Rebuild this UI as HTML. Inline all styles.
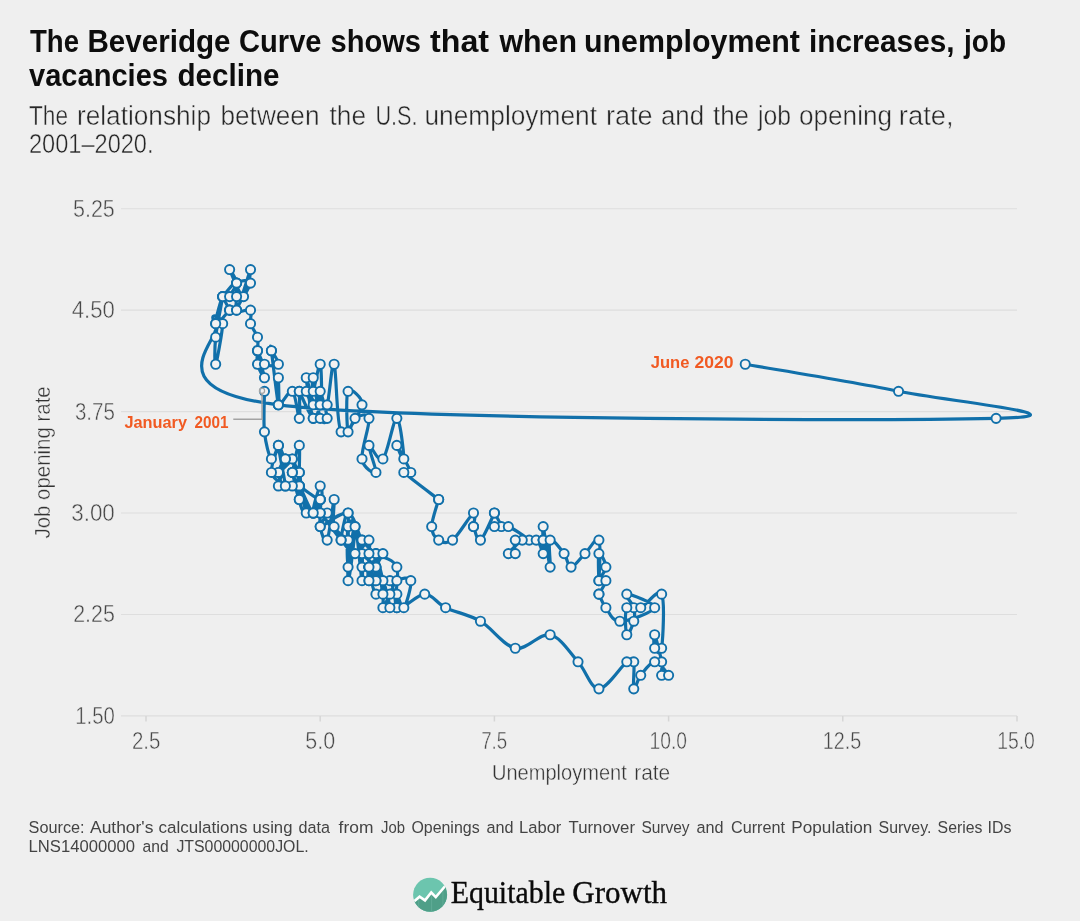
<!DOCTYPE html>
<html><head><meta charset="utf-8"><title>The Beveridge Curve</title>
<style>
html,body{margin:0;padding:0;background:#efefef;}
body{width:1080px;height:921px;overflow:hidden;font-family:"Liberation Sans",sans-serif;}
svg{display:block;will-change:transform;}
text{font-family:"Liberation Sans",sans-serif;}
.ttl{font-weight:bold;font-size:32px;fill:#0d0d0d;}
.sub{font-size:27px;fill:#262626;stroke:#efefef;stroke-width:0.45px;}
.ax{font-size:23px;fill:#484848;stroke:#efefef;stroke-width:0.45px;}
.axt{font-size:22px;fill:#333;stroke:#efefef;stroke-width:0.4px;}
.src{font-size:16.7px;fill:#444;}
.ann{font-weight:bold;font-size:17px;fill:#f15a22;}
.logo{font-family:'Liberation Serif',serif;font-size:30.5px;fill:#0a0a0a;stroke:#0a0a0a;stroke-width:0.35;}
.grid line{stroke:#dedede;stroke-width:1.1;}
.tick line{stroke:#d6d6d6;stroke-width:1.5;}
.pts circle{fill:#f2f2f2;stroke:#1170aa;stroke-width:1.9;}
.ln{fill:none;stroke:#1170aa;stroke-width:3.2;stroke-linejoin:round;stroke-linecap:round;}
</style></head><body>
<svg width="1080" height="921" viewBox="0 0 1080 921">
<rect x="0" y="0" width="1080" height="921" fill="#efefef"/>
<!-- grid -->
<g class="grid">
<line x1="121" x2="1017" y1="208.70" y2="208.70"/>
<line x1="121" x2="1017" y1="310.14" y2="310.14"/>
<line x1="121" x2="1017" y1="411.58" y2="411.58"/>
<line x1="121" x2="1017" y1="513.02" y2="513.02"/>
<line x1="121" x2="1017" y1="614.46" y2="614.46"/>
<line x1="121" x2="1017" y1="715.90" y2="715.90"/>
</g>
<g class="tick">
<line x1="146" x2="146" y1="715.9" y2="721.5"/>
<line x1="320.2" x2="320.2" y1="715.9" y2="721.5"/>
<line x1="494.4" x2="494.4" y1="715.9" y2="721.5"/>
<line x1="668.6" x2="668.6" y1="715.9" y2="721.5"/>
<line x1="842.8" x2="842.8" y1="715.9" y2="721.5"/>
<line x1="1017" x2="1017" y1="715.9" y2="721.5"/>
</g>
<text class="axt" transform="translate(49.6,538.5) rotate(-90)" textLength="152.2" lengthAdjust="spacingAndGlyphs">Job opening rate</text>
<!-- data -->
<path class="ln" d="M264.46,391.30C264.46,398.06,263.29,420.60,264.46,431.87C265.62,443.15,269.10,456.67,271.42,458.93C273.75,461.18,278.39,443.15,278.39,445.40C278.39,447.65,270.26,465.69,271.42,472.45C272.59,479.21,281.88,483.72,285.36,485.97C288.84,488.23,287.68,481.47,292.33,485.97C296.97,490.48,308.59,508.52,313.23,513.02C317.88,517.53,315.55,508.52,320.20,513.02C324.85,517.53,335.30,533.31,341.10,540.08C346.91,546.84,350.39,553.60,355.04,553.60C359.69,553.60,366.65,540.08,368.98,540.08C371.30,540.08,368.98,546.84,368.98,553.60C368.98,560.36,368.98,578.40,368.98,580.65C368.98,582.90,366.65,571.63,368.98,567.12C371.30,562.62,381.75,553.60,382.91,553.60C384.07,553.60,377.11,562.62,375.94,567.12C374.78,571.63,375.94,578.40,375.94,580.65C375.94,582.90,377.11,582.90,375.94,580.65C374.78,578.40,370.14,567.12,368.98,567.12C367.81,567.12,368.98,580.65,368.98,580.65C368.98,580.65,366.65,567.12,368.98,567.12C371.30,567.12,379.43,573.89,382.91,580.65C386.40,587.41,391.04,612.21,389.88,607.70C388.72,603.19,377.11,555.85,375.94,553.60C374.78,551.35,381.75,585.16,382.91,594.17C384.07,603.19,381.75,607.70,382.91,607.70C384.07,607.70,387.56,598.68,389.88,594.17C392.20,589.67,393.36,582.90,396.85,580.65C400.33,578.40,409.62,576.14,410.78,580.65C411.95,585.16,406.14,605.45,403.82,607.70C401.49,609.95,398.01,594.17,396.85,594.17C395.69,594.17,398.01,609.95,396.85,607.70C395.69,605.45,393.36,582.90,389.88,580.65C386.40,578.40,379.43,596.43,375.94,594.17C372.46,591.92,370.14,571.63,368.98,567.12C367.81,562.62,370.14,567.12,368.98,567.12C367.81,567.12,360.85,567.12,362.01,567.12C363.17,567.12,375.94,569.38,375.94,567.12C375.94,564.87,364.33,558.11,362.01,553.60C359.69,549.09,362.01,535.57,362.01,540.08C362.01,544.58,363.17,582.90,362.01,580.65C360.85,578.40,357.36,528.80,355.04,526.55C352.72,524.30,349.23,567.12,348.07,567.12C346.91,567.12,346.91,533.31,348.07,526.55C349.23,519.79,355.04,517.53,355.04,526.55C355.04,535.57,349.23,582.90,348.07,580.65C346.91,578.40,349.23,519.79,348.07,513.02C346.91,506.26,341.10,535.57,341.10,540.08C341.10,544.58,349.23,542.33,348.07,540.08C346.91,537.82,336.46,533.31,334.14,526.55C331.81,519.79,335.30,497.25,334.14,499.50C332.97,501.75,329.49,535.57,327.17,540.08C324.85,544.58,321.36,533.31,320.20,526.55C319.04,519.79,321.36,501.75,320.20,499.50C319.04,497.25,313.23,513.02,313.23,513.02C313.23,513.02,319.04,499.50,320.20,499.50C321.36,499.50,320.20,513.02,320.20,513.02C320.20,513.02,321.36,499.50,320.20,499.50C319.04,499.50,316.72,515.28,313.23,513.02C309.75,510.77,300.46,485.97,299.30,485.97C298.13,485.97,306.26,510.77,306.26,513.02C306.26,515.28,300.46,510.77,299.30,499.50C298.13,488.23,300.46,449.91,299.30,445.40C298.13,440.89,293.49,467.94,292.33,472.45C291.17,476.96,291.17,467.94,292.33,472.45C293.49,476.96,298.13,499.50,299.30,499.50C300.46,499.50,301.62,479.21,299.30,472.45C296.97,465.69,288.84,456.67,285.36,458.93C281.88,461.18,278.39,485.97,278.39,485.97C278.39,485.97,285.36,461.18,285.36,458.93C285.36,456.67,277.23,472.45,278.39,472.45C279.55,472.45,291.17,461.18,292.33,458.93C293.49,456.67,287.68,461.18,285.36,458.93C283.04,456.67,278.39,440.89,278.39,445.40C278.39,449.91,285.36,481.47,285.36,485.97C285.36,490.48,277.23,476.96,278.39,472.45C279.55,467.94,288.84,456.67,292.33,458.93C295.81,461.18,299.30,483.72,299.30,485.97C299.30,488.23,292.33,474.70,292.33,472.45C292.33,470.20,298.13,470.20,299.30,472.45C300.46,474.70,299.30,483.72,299.30,485.97C299.30,488.23,295.81,483.72,299.30,485.97C302.78,488.23,316.72,499.50,320.20,499.50C323.68,499.50,321.36,483.72,320.20,485.97C319.04,488.23,312.07,508.52,313.23,513.02C314.39,517.53,326.01,510.77,327.17,513.02C328.33,515.28,316.72,526.55,320.20,526.55C323.68,526.55,341.10,510.77,348.07,513.02C355.04,515.28,357.36,533.31,362.01,540.08C366.65,546.84,370.14,549.09,375.94,553.60C381.75,558.11,393.36,558.11,396.85,567.12C400.33,576.14,392.20,603.19,396.85,607.70C401.49,612.21,416.59,594.17,424.72,594.17C432.85,594.17,436.33,603.19,445.62,607.70C454.91,612.21,468.85,614.46,480.46,621.22C492.08,627.99,503.69,646.02,515.30,648.27C526.92,650.53,539.69,632.50,550.14,634.75C560.60,637.00,569.89,652.78,578.02,661.80C586.15,670.82,590.79,688.85,598.92,688.85C607.05,688.85,620.99,666.31,626.79,661.80C632.60,657.29,632.60,657.29,633.76,661.80C634.92,666.31,632.60,686.60,633.76,688.85C634.92,691.10,637.24,679.83,640.73,675.32C644.21,670.82,650.02,661.80,654.66,661.80C659.31,661.80,667.44,673.07,668.60,675.32C669.76,677.58,662.79,677.58,661.63,675.32C660.47,673.07,662.79,668.56,661.63,661.80C660.47,655.04,655.83,637.00,654.66,634.75C653.50,632.50,653.50,646.02,654.66,648.27C655.83,650.53,660.47,657.29,661.63,648.27C662.79,639.26,665.12,600.94,661.63,594.17C658.15,587.41,646.53,605.45,640.73,607.70C634.92,609.95,629.11,603.19,626.79,607.70C624.47,612.21,625.63,632.50,626.79,634.75C627.95,637.00,632.60,625.73,633.76,621.22C634.92,616.72,634.92,612.21,633.76,607.70C632.60,603.19,623.31,594.17,626.79,594.17C630.28,594.17,655.83,603.19,654.66,607.70C653.50,612.21,627.95,621.22,619.82,621.22C611.69,621.22,609.37,612.21,605.89,607.70C602.40,603.19,600.08,596.43,598.92,594.17C597.76,591.92,597.76,596.43,598.92,594.17C600.08,591.92,605.89,582.90,605.89,580.65C605.89,578.40,598.92,582.90,598.92,580.65C598.92,578.40,605.89,571.63,605.89,567.12C605.89,562.62,600.08,551.35,598.92,553.60C597.76,555.85,598.92,582.90,598.92,580.65C598.92,578.40,601.24,544.58,598.92,540.08C596.60,535.57,589.63,549.09,584.98,553.60C580.34,558.11,574.53,567.12,571.05,567.12C567.56,567.12,567.56,558.11,564.08,553.60C560.60,549.09,552.47,537.82,550.14,540.08C547.82,542.33,551.31,569.38,550.14,567.12C548.98,564.87,544.34,531.06,543.18,526.55C542.01,522.04,543.18,537.82,543.18,540.08C543.18,542.33,543.18,540.08,543.18,540.08C543.18,540.08,543.18,537.82,543.18,540.08C543.18,542.33,544.34,553.60,543.18,553.60C542.01,553.60,540.85,542.33,536.21,540.08C531.56,537.82,518.79,537.82,515.30,540.08C511.82,542.33,516.47,551.35,515.30,553.60C514.14,555.85,507.17,555.85,508.34,553.60C509.50,551.35,518.79,542.33,522.27,540.08C525.76,537.82,531.56,542.33,529.24,540.08C526.92,537.82,514.14,528.80,508.34,526.55C502.53,524.30,495.56,526.55,494.40,526.55C493.24,526.55,501.37,528.80,501.37,526.55C501.37,524.30,495.56,515.28,494.40,513.02C493.24,510.77,496.72,508.52,494.40,513.02C492.08,517.53,483.95,537.82,480.46,540.08C476.98,542.33,474.66,528.80,473.50,526.55C472.33,524.30,473.50,528.80,473.50,526.55C473.50,524.30,476.98,510.77,473.50,513.02C470.01,515.28,458.40,535.57,452.59,540.08C446.79,544.58,442.14,542.33,438.66,540.08C435.17,537.82,431.69,533.31,431.69,526.55C431.69,519.79,437.49,504.01,438.66,499.50C439.82,494.99,444.46,504.01,438.66,499.50C432.85,494.99,408.46,476.96,403.82,472.45C399.17,467.94,411.95,476.96,410.78,472.45C409.62,467.94,398.01,447.65,396.85,445.40C395.69,443.15,403.82,463.43,403.82,458.93C403.82,454.42,400.33,418.35,396.85,418.35C393.36,418.35,387.56,454.42,382.91,458.93C378.27,463.43,370.14,443.15,368.98,445.40C367.81,447.65,377.11,470.20,375.94,472.45C374.78,474.70,363.17,467.94,362.01,458.93C360.85,449.91,370.14,425.11,368.98,418.35C367.81,411.59,358.52,416.10,355.04,418.35C351.56,420.60,349.23,436.38,348.07,431.87C346.91,427.37,345.75,395.81,348.07,391.30C350.39,386.79,363.17,398.06,362.01,404.82C360.85,411.59,345.75,438.64,341.10,431.87C336.46,425.11,336.46,368.76,334.14,364.25C331.81,359.74,329.49,398.06,327.17,404.82C324.85,411.59,321.36,407.08,320.20,404.82C319.04,402.57,319.04,389.05,320.20,391.30C321.36,393.55,327.17,413.84,327.17,418.35C327.17,422.86,322.52,425.11,320.20,418.35C317.88,411.59,314.39,382.28,313.23,377.77C312.07,373.27,312.07,393.55,313.23,391.30C314.39,389.05,319.04,362.00,320.20,364.25C321.36,366.50,322.52,400.32,320.20,404.82C317.88,409.33,307.43,391.30,306.26,391.30C305.10,391.30,313.23,407.08,313.23,404.82C313.23,402.57,306.26,375.52,306.26,377.77C306.26,380.03,310.91,413.84,313.23,418.35C315.55,422.86,320.20,404.82,320.20,404.82C320.20,404.82,316.72,420.60,313.23,418.35C309.75,416.10,301.62,395.81,299.30,391.30C296.97,386.79,299.30,386.79,299.30,391.30C299.30,395.81,300.46,418.35,299.30,418.35C298.13,418.35,295.81,393.55,292.33,391.30C288.84,389.05,280.71,407.08,278.39,404.82C276.07,402.57,278.39,377.77,278.39,377.77C278.39,377.77,279.55,409.33,278.39,404.82C277.23,400.32,272.59,359.74,271.42,350.72C270.26,341.71,270.26,348.47,271.42,350.72C272.59,352.98,279.55,362.00,278.39,364.25C277.23,366.50,267.94,366.50,264.46,364.25C260.97,362.00,257.49,348.47,257.49,350.72C257.49,352.98,264.46,375.52,264.46,377.77C264.46,380.03,258.65,368.76,257.49,364.25C256.33,359.74,257.49,355.23,257.49,350.72C257.49,346.22,258.65,341.71,257.49,337.20C256.33,332.69,251.68,328.18,250.52,323.67C249.36,319.17,252.84,312.40,250.52,310.15C248.20,307.90,236.58,314.66,236.58,310.15C236.58,305.64,250.52,287.61,250.52,283.10C250.52,278.59,238.91,280.85,236.58,283.10C234.26,285.35,237.75,294.37,236.58,296.62C235.42,298.88,229.62,298.88,229.62,296.62C229.62,294.37,236.58,287.61,236.58,283.10C236.58,278.59,228.45,267.32,229.62,269.57C230.78,271.83,240.07,296.62,243.55,296.62C247.04,296.62,251.68,267.32,250.52,269.57C249.36,271.83,238.91,307.90,236.58,310.15C234.26,312.40,238.91,285.35,236.58,283.10C234.26,280.85,224.97,294.37,222.65,296.62C220.33,298.88,221.49,294.37,222.65,296.62C223.81,298.88,228.45,307.90,229.62,310.15C230.78,312.40,229.62,310.15,229.62,310.15C229.62,310.15,231.94,307.90,229.62,310.15C227.29,312.40,216.84,325.93,215.68,323.67C214.52,321.42,222.65,294.37,222.65,296.62C222.65,298.88,216.84,325.93,215.68,337.20C214.52,348.47,214.52,366.50,215.68,364.25C216.84,362.00,222.65,330.44,222.65,323.67C222.65,316.91,206.39,310.15,215.68,323.67C224.97,337.20,148.32,389.05,278.39,404.82C408.46,420.60,892.74,420.60,996.10,418.35C1099.45,416.10,940.35,400.32,898.54,391.30C856.74,382.28,770.80,368.76,745.25,364.25"/>
<g class="pts">
<circle cx="745.25" cy="364.25" r="4.6"/>
<circle cx="898.54" cy="391.30" r="4.6"/>
<circle cx="996.10" cy="418.35" r="4.6"/>
<circle cx="278.39" cy="404.82" r="4.6"/>
<circle cx="215.68" cy="323.67" r="4.6"/>
<circle cx="222.65" cy="323.67" r="4.6"/>
<circle cx="215.68" cy="364.25" r="4.6"/>
<circle cx="215.68" cy="337.20" r="4.6"/>
<circle cx="222.65" cy="296.62" r="4.6"/>
<circle cx="215.68" cy="323.67" r="4.6"/>
<circle cx="229.62" cy="310.15" r="4.6"/>
<circle cx="229.62" cy="310.15" r="4.6"/>
<circle cx="229.62" cy="310.15" r="4.6"/>
<circle cx="222.65" cy="296.62" r="4.6"/>
<circle cx="222.65" cy="296.62" r="4.6"/>
<circle cx="236.58" cy="283.10" r="4.6"/>
<circle cx="236.58" cy="310.15" r="4.6"/>
<circle cx="250.52" cy="269.57" r="4.6"/>
<circle cx="243.55" cy="296.62" r="4.6"/>
<circle cx="229.62" cy="269.57" r="4.6"/>
<circle cx="236.58" cy="283.10" r="4.6"/>
<circle cx="229.62" cy="296.62" r="4.6"/>
<circle cx="236.58" cy="296.62" r="4.6"/>
<circle cx="236.58" cy="283.10" r="4.6"/>
<circle cx="250.52" cy="283.10" r="4.6"/>
<circle cx="236.58" cy="310.15" r="4.6"/>
<circle cx="250.52" cy="310.15" r="4.6"/>
<circle cx="250.52" cy="323.67" r="4.6"/>
<circle cx="257.49" cy="337.20" r="4.6"/>
<circle cx="257.49" cy="350.72" r="4.6"/>
<circle cx="257.49" cy="364.25" r="4.6"/>
<circle cx="264.46" cy="377.77" r="4.6"/>
<circle cx="257.49" cy="350.72" r="4.6"/>
<circle cx="264.46" cy="364.25" r="4.6"/>
<circle cx="278.39" cy="364.25" r="4.6"/>
<circle cx="271.42" cy="350.72" r="4.6"/>
<circle cx="271.42" cy="350.72" r="4.6"/>
<circle cx="278.39" cy="404.82" r="4.6"/>
<circle cx="278.39" cy="377.77" r="4.6"/>
<circle cx="278.39" cy="404.82" r="4.6"/>
<circle cx="292.33" cy="391.30" r="4.6"/>
<circle cx="299.30" cy="418.35" r="4.6"/>
<circle cx="299.30" cy="391.30" r="4.6"/>
<circle cx="299.30" cy="391.30" r="4.6"/>
<circle cx="313.23" cy="418.35" r="4.6"/>
<circle cx="320.20" cy="404.82" r="4.6"/>
<circle cx="313.23" cy="418.35" r="4.6"/>
<circle cx="306.26" cy="377.77" r="4.6"/>
<circle cx="313.23" cy="404.82" r="4.6"/>
<circle cx="306.26" cy="391.30" r="4.6"/>
<circle cx="320.20" cy="404.82" r="4.6"/>
<circle cx="320.20" cy="364.25" r="4.6"/>
<circle cx="313.23" cy="391.30" r="4.6"/>
<circle cx="313.23" cy="377.77" r="4.6"/>
<circle cx="320.20" cy="418.35" r="4.6"/>
<circle cx="327.17" cy="418.35" r="4.6"/>
<circle cx="320.20" cy="391.30" r="4.6"/>
<circle cx="320.20" cy="404.82" r="4.6"/>
<circle cx="327.17" cy="404.82" r="4.6"/>
<circle cx="334.14" cy="364.25" r="4.6"/>
<circle cx="341.10" cy="431.87" r="4.6"/>
<circle cx="362.01" cy="404.82" r="4.6"/>
<circle cx="348.07" cy="391.30" r="4.6"/>
<circle cx="348.07" cy="431.87" r="4.6"/>
<circle cx="355.04" cy="418.35" r="4.6"/>
<circle cx="368.98" cy="418.35" r="4.6"/>
<circle cx="362.01" cy="458.93" r="4.6"/>
<circle cx="375.94" cy="472.45" r="4.6"/>
<circle cx="368.98" cy="445.40" r="4.6"/>
<circle cx="382.91" cy="458.93" r="4.6"/>
<circle cx="396.85" cy="418.35" r="4.6"/>
<circle cx="403.82" cy="458.93" r="4.6"/>
<circle cx="396.85" cy="445.40" r="4.6"/>
<circle cx="410.78" cy="472.45" r="4.6"/>
<circle cx="403.82" cy="472.45" r="4.6"/>
<circle cx="438.66" cy="499.50" r="4.6"/>
<circle cx="438.66" cy="499.50" r="4.6"/>
<circle cx="431.69" cy="526.55" r="4.6"/>
<circle cx="438.66" cy="540.08" r="4.6"/>
<circle cx="452.59" cy="540.08" r="4.6"/>
<circle cx="473.50" cy="513.02" r="4.6"/>
<circle cx="473.50" cy="526.55" r="4.6"/>
<circle cx="473.50" cy="526.55" r="4.6"/>
<circle cx="480.46" cy="540.08" r="4.6"/>
<circle cx="494.40" cy="513.02" r="4.6"/>
<circle cx="494.40" cy="513.02" r="4.6"/>
<circle cx="501.37" cy="526.55" r="4.6"/>
<circle cx="494.40" cy="526.55" r="4.6"/>
<circle cx="508.34" cy="526.55" r="4.6"/>
<circle cx="529.24" cy="540.08" r="4.6"/>
<circle cx="522.27" cy="540.08" r="4.6"/>
<circle cx="508.34" cy="553.60" r="4.6"/>
<circle cx="515.30" cy="553.60" r="4.6"/>
<circle cx="515.30" cy="540.08" r="4.6"/>
<circle cx="536.21" cy="540.08" r="4.6"/>
<circle cx="543.18" cy="553.60" r="4.6"/>
<circle cx="543.18" cy="540.08" r="4.6"/>
<circle cx="543.18" cy="540.08" r="4.6"/>
<circle cx="543.18" cy="540.08" r="4.6"/>
<circle cx="543.18" cy="526.55" r="4.6"/>
<circle cx="550.14" cy="567.12" r="4.6"/>
<circle cx="550.14" cy="540.08" r="4.6"/>
<circle cx="564.08" cy="553.60" r="4.6"/>
<circle cx="571.05" cy="567.12" r="4.6"/>
<circle cx="584.98" cy="553.60" r="4.6"/>
<circle cx="598.92" cy="540.08" r="4.6"/>
<circle cx="598.92" cy="580.65" r="4.6"/>
<circle cx="598.92" cy="553.60" r="4.6"/>
<circle cx="605.89" cy="567.12" r="4.6"/>
<circle cx="598.92" cy="580.65" r="4.6"/>
<circle cx="605.89" cy="580.65" r="4.6"/>
<circle cx="598.92" cy="594.17" r="4.6"/>
<circle cx="598.92" cy="594.17" r="4.6"/>
<circle cx="605.89" cy="607.70" r="4.6"/>
<circle cx="619.82" cy="621.22" r="4.6"/>
<circle cx="654.66" cy="607.70" r="4.6"/>
<circle cx="626.79" cy="594.17" r="4.6"/>
<circle cx="633.76" cy="607.70" r="4.6"/>
<circle cx="633.76" cy="621.22" r="4.6"/>
<circle cx="626.79" cy="634.75" r="4.6"/>
<circle cx="626.79" cy="607.70" r="4.6"/>
<circle cx="640.73" cy="607.70" r="4.6"/>
<circle cx="661.63" cy="594.17" r="4.6"/>
<circle cx="661.63" cy="648.27" r="4.6"/>
<circle cx="654.66" cy="648.27" r="4.6"/>
<circle cx="654.66" cy="634.75" r="4.6"/>
<circle cx="661.63" cy="661.80" r="4.6"/>
<circle cx="661.63" cy="675.32" r="4.6"/>
<circle cx="668.60" cy="675.32" r="4.6"/>
<circle cx="654.66" cy="661.80" r="4.6"/>
<circle cx="640.73" cy="675.32" r="4.6"/>
<circle cx="633.76" cy="688.85" r="4.6"/>
<circle cx="633.76" cy="661.80" r="4.6"/>
<circle cx="626.79" cy="661.80" r="4.6"/>
<circle cx="598.92" cy="688.85" r="4.6"/>
<circle cx="578.02" cy="661.80" r="4.6"/>
<circle cx="550.14" cy="634.75" r="4.6"/>
<circle cx="515.30" cy="648.27" r="4.6"/>
<circle cx="480.46" cy="621.22" r="4.6"/>
<circle cx="445.62" cy="607.70" r="4.6"/>
<circle cx="424.72" cy="594.17" r="4.6"/>
<circle cx="396.85" cy="607.70" r="4.6"/>
<circle cx="396.85" cy="567.12" r="4.6"/>
<circle cx="375.94" cy="553.60" r="4.6"/>
<circle cx="362.01" cy="540.08" r="4.6"/>
<circle cx="348.07" cy="513.02" r="4.6"/>
<circle cx="320.20" cy="526.55" r="4.6"/>
<circle cx="327.17" cy="513.02" r="4.6"/>
<circle cx="313.23" cy="513.02" r="4.6"/>
<circle cx="320.20" cy="485.97" r="4.6"/>
<circle cx="320.20" cy="499.50" r="4.6"/>
<circle cx="299.30" cy="485.97" r="4.6"/>
<circle cx="299.30" cy="485.97" r="4.6"/>
<circle cx="299.30" cy="472.45" r="4.6"/>
<circle cx="292.33" cy="472.45" r="4.6"/>
<circle cx="299.30" cy="485.97" r="4.6"/>
<circle cx="292.33" cy="458.93" r="4.6"/>
<circle cx="278.39" cy="472.45" r="4.6"/>
<circle cx="285.36" cy="485.97" r="4.6"/>
<circle cx="278.39" cy="445.40" r="4.6"/>
<circle cx="285.36" cy="458.93" r="4.6"/>
<circle cx="292.33" cy="458.93" r="4.6"/>
<circle cx="278.39" cy="472.45" r="4.6"/>
<circle cx="285.36" cy="458.93" r="4.6"/>
<circle cx="278.39" cy="485.97" r="4.6"/>
<circle cx="285.36" cy="458.93" r="4.6"/>
<circle cx="299.30" cy="472.45" r="4.6"/>
<circle cx="299.30" cy="499.50" r="4.6"/>
<circle cx="292.33" cy="472.45" r="4.6"/>
<circle cx="292.33" cy="472.45" r="4.6"/>
<circle cx="299.30" cy="445.40" r="4.6"/>
<circle cx="299.30" cy="499.50" r="4.6"/>
<circle cx="306.26" cy="513.02" r="4.6"/>
<circle cx="299.30" cy="485.97" r="4.6"/>
<circle cx="313.23" cy="513.02" r="4.6"/>
<circle cx="320.20" cy="499.50" r="4.6"/>
<circle cx="320.20" cy="513.02" r="4.6"/>
<circle cx="320.20" cy="499.50" r="4.6"/>
<circle cx="313.23" cy="513.02" r="4.6"/>
<circle cx="320.20" cy="499.50" r="4.6"/>
<circle cx="320.20" cy="526.55" r="4.6"/>
<circle cx="327.17" cy="540.08" r="4.6"/>
<circle cx="334.14" cy="499.50" r="4.6"/>
<circle cx="334.14" cy="526.55" r="4.6"/>
<circle cx="348.07" cy="540.08" r="4.6"/>
<circle cx="341.10" cy="540.08" r="4.6"/>
<circle cx="348.07" cy="513.02" r="4.6"/>
<circle cx="348.07" cy="580.65" r="4.6"/>
<circle cx="355.04" cy="526.55" r="4.6"/>
<circle cx="348.07" cy="526.55" r="4.6"/>
<circle cx="348.07" cy="567.12" r="4.6"/>
<circle cx="355.04" cy="526.55" r="4.6"/>
<circle cx="362.01" cy="580.65" r="4.6"/>
<circle cx="362.01" cy="540.08" r="4.6"/>
<circle cx="362.01" cy="553.60" r="4.6"/>
<circle cx="375.94" cy="567.12" r="4.6"/>
<circle cx="362.01" cy="567.12" r="4.6"/>
<circle cx="368.98" cy="567.12" r="4.6"/>
<circle cx="368.98" cy="567.12" r="4.6"/>
<circle cx="375.94" cy="594.17" r="4.6"/>
<circle cx="389.88" cy="580.65" r="4.6"/>
<circle cx="396.85" cy="607.70" r="4.6"/>
<circle cx="396.85" cy="594.17" r="4.6"/>
<circle cx="403.82" cy="607.70" r="4.6"/>
<circle cx="410.78" cy="580.65" r="4.6"/>
<circle cx="396.85" cy="580.65" r="4.6"/>
<circle cx="389.88" cy="594.17" r="4.6"/>
<circle cx="382.91" cy="607.70" r="4.6"/>
<circle cx="382.91" cy="594.17" r="4.6"/>
<circle cx="375.94" cy="553.60" r="4.6"/>
<circle cx="389.88" cy="607.70" r="4.6"/>
<circle cx="382.91" cy="580.65" r="4.6"/>
<circle cx="368.98" cy="567.12" r="4.6"/>
<circle cx="368.98" cy="580.65" r="4.6"/>
<circle cx="368.98" cy="567.12" r="4.6"/>
<circle cx="375.94" cy="580.65" r="4.6"/>
<circle cx="375.94" cy="580.65" r="4.6"/>
<circle cx="375.94" cy="567.12" r="4.6"/>
<circle cx="382.91" cy="553.60" r="4.6"/>
<circle cx="368.98" cy="567.12" r="4.6"/>
<circle cx="368.98" cy="580.65" r="4.6"/>
<circle cx="368.98" cy="553.60" r="4.6"/>
<circle cx="368.98" cy="540.08" r="4.6"/>
<circle cx="355.04" cy="553.60" r="4.6"/>
<circle cx="341.10" cy="540.08" r="4.6"/>
<circle cx="320.20" cy="513.02" r="4.6"/>
<circle cx="313.23" cy="513.02" r="4.6"/>
<circle cx="292.33" cy="485.97" r="4.6"/>
<circle cx="285.36" cy="485.97" r="4.6"/>
<circle cx="271.42" cy="472.45" r="4.6"/>
<circle cx="278.39" cy="445.40" r="4.6"/>
<circle cx="271.42" cy="458.93" r="4.6"/>
<circle cx="264.46" cy="431.87" r="4.6"/>
<circle cx="264.46" cy="391.30" r="4.6"/>
</g>
<!-- annotations -->
<path d="M233.3,419.2H262V393.5" fill="none" stroke="#a3a3a3" stroke-width="1.4"/>
<circle cx="262" cy="390.8" r="2.6" fill="#f0f0f0" fill-opacity="0.6" stroke="#a3a3a3" stroke-width="1.2"/>
<!-- logo -->
<defs><clipPath id="lc"><circle cx="430.1" cy="894.8" r="17"/></clipPath></defs>
<g clip-path="url(#lc)">
<rect x="410" y="875" width="40" height="40" fill="#6cc5ae"/>
<path d="M410,905 L414.2,901.25 L419.6,896.7 L425,900.4 L431.25,892.5 L435.8,897.1 L445,886.25 L450,880 V915 H410 Z" fill="#4f9f88"/>
<path d="M418.7,898V915M431.6,893V915M442.9,889V915" stroke="#62ad97" stroke-width="0.9" fill="none"/>
<path d="M410,905 L414.2,901.25 L419.6,896.7 L425,900.4 L431.25,892.5 L435.8,897.1 L445,886.25 L450,880" fill="none" stroke="#fff" stroke-width="2.6" stroke-linejoin="miter"/>
</g>
<text id="t0" class="ttl" x="30.01" y="52" textLength="49.01" lengthAdjust="spacingAndGlyphs">The</text>
<text id="t1" class="ttl" x="87.48" y="52" textLength="143.05" lengthAdjust="spacingAndGlyphs">Beveridge</text>
<text id="t2" class="ttl" x="239.00" y="52" textLength="82.51" lengthAdjust="spacingAndGlyphs">Curve</text>
<text id="t3" class="ttl" x="330.48" y="52" textLength="90.54" lengthAdjust="spacingAndGlyphs">shows</text>
<text id="t4" class="ttl" x="430.00" y="52" textLength="59.00" lengthAdjust="spacingAndGlyphs">that</text>
<text id="t5" class="ttl" x="499.50" y="52" textLength="77.52" lengthAdjust="spacingAndGlyphs">when</text>
<text id="t6" class="ttl" x="583.99" y="52" textLength="216.00" lengthAdjust="spacingAndGlyphs">unemployment</text>
<text id="t7" class="ttl" x="808.97" y="52" textLength="145.55" lengthAdjust="spacingAndGlyphs">increases,</text>
<text id="t8" class="ttl" x="964.00" y="52" textLength="42.00" lengthAdjust="spacingAndGlyphs">job</text>
<text id="t9" class="ttl" x="29.00" y="85.5" textLength="139.01" lengthAdjust="spacingAndGlyphs">vacancies</text>
<text id="t10" class="ttl" x="177.47" y="85.5" textLength="102.04" lengthAdjust="spacingAndGlyphs">decline</text>
<text id="t11" class="sub" x="28.99" y="124.5" textLength="39.03" lengthAdjust="spacingAndGlyphs">The</text>
<text id="t12" class="sub" x="76.99" y="124.5" textLength="134.02" lengthAdjust="spacingAndGlyphs">relationship</text>
<text id="t13" class="sub" x="220.49" y="124.5" textLength="99.02" lengthAdjust="spacingAndGlyphs">between</text>
<text id="t14" class="sub" x="329.51" y="124.5" textLength="36.52" lengthAdjust="spacingAndGlyphs">the</text>
<text id="t15" class="sub" x="375.46" y="124.5" textLength="42.11" lengthAdjust="spacingAndGlyphs">U.S.</text>
<text id="t16" class="sub" x="424.49" y="124.5" textLength="172.50" lengthAdjust="spacingAndGlyphs">unemployment</text>
<text id="t17" class="sub" x="605.90" y="124.5" textLength="46.68" lengthAdjust="spacingAndGlyphs">rate</text>
<text id="t18" class="sub" x="660.95" y="124.5" textLength="43.10" lengthAdjust="spacingAndGlyphs">and</text>
<text id="t19" class="sub" x="713.00" y="124.5" textLength="36.03" lengthAdjust="spacingAndGlyphs">the</text>
<text id="t20" class="sub" x="758.00" y="124.5" textLength="33.00" lengthAdjust="spacingAndGlyphs">job</text>
<text id="t21" class="sub" x="798.97" y="124.5" textLength="93.07" lengthAdjust="spacingAndGlyphs">opening</text>
<text id="t22" class="sub" x="898.88" y="124.5" textLength="54.80" lengthAdjust="spacingAndGlyphs">rate,</text>
<text id="t23" class="sub" x="28.99" y="152.5" textLength="124.54" lengthAdjust="spacingAndGlyphs">2001–2020.</text>
<text id="t24" class="ax" x="72.98" y="216.7" textLength="41.85" lengthAdjust="spacingAndGlyphs">5.25</text>
<text id="t25" class="ax" x="71.78" y="318.14" textLength="43.06" lengthAdjust="spacingAndGlyphs">4.50</text>
<text id="t26" class="ax" x="74.98" y="419.58" textLength="39.85" lengthAdjust="spacingAndGlyphs">3.75</text>
<text id="t27" class="ax" x="71.19" y="521.02" textLength="43.64" lengthAdjust="spacingAndGlyphs">3.00</text>
<text id="t28" class="ax" x="73.19" y="622.46" textLength="41.64" lengthAdjust="spacingAndGlyphs">2.25</text>
<text id="t29" class="ax" x="75.32" y="723.9" textLength="39.54" lengthAdjust="spacingAndGlyphs">1.50</text>
<text id="t30" class="ax" x="131.89" y="748.8" textLength="28.42" lengthAdjust="spacingAndGlyphs">2.5</text>
<text id="t31" class="ax" x="305.36" y="748.8" textLength="29.87" lengthAdjust="spacingAndGlyphs">5.0</text>
<text id="t32" class="ax" x="481.19" y="748.8" textLength="26.01" lengthAdjust="spacingAndGlyphs">7.5</text>
<text id="t33" class="ax" x="649.58" y="748.8" textLength="37.44" lengthAdjust="spacingAndGlyphs">10.0</text>
<text id="t34" class="ax" x="822.82" y="748.8" textLength="38.48" lengthAdjust="spacingAndGlyphs">12.5</text>
<text id="t35" class="ax" x="997.13" y="748.8" textLength="37.70" lengthAdjust="spacingAndGlyphs">15.0</text>
<text id="t36" class="axt" x="491.99" y="780.4" textLength="134.81" lengthAdjust="spacingAndGlyphs">Unemployment</text>
<text id="t37" class="axt" x="634.19" y="780.4" textLength="36.03" lengthAdjust="spacingAndGlyphs">rate</text>
<text id="t38" class="ann" x="650.79" y="368.2" textLength="38.62" lengthAdjust="spacingAndGlyphs">June</text>
<text id="t39" class="ann" x="694.59" y="368.2" textLength="39.03" lengthAdjust="spacingAndGlyphs">2020</text>
<text id="t40" class="ann" x="124.40" y="428.4" textLength="62.60" lengthAdjust="spacingAndGlyphs">January</text>
<text id="t41" class="ann" x="194.40" y="428.4" textLength="34.01" lengthAdjust="spacingAndGlyphs">2001</text>
<text id="t42" class="src" x="28.57" y="833.3" textLength="56.08" lengthAdjust="spacingAndGlyphs">Source:</text>
<text id="t43" class="src" x="90.00" y="833.3" textLength="63.41" lengthAdjust="spacingAndGlyphs">Author's</text>
<text id="t44" class="src" x="158.59" y="833.3" textLength="88.82" lengthAdjust="spacingAndGlyphs">calculations</text>
<text id="t45" class="src" x="252.57" y="833.3" textLength="39.85" lengthAdjust="spacingAndGlyphs">using</text>
<text id="t46" class="src" x="298.58" y="833.3" textLength="31.42" lengthAdjust="spacingAndGlyphs">data</text>
<text id="t47" class="src" x="338.60" y="833.3" textLength="34.80" lengthAdjust="spacingAndGlyphs">from</text>
<text id="t48" class="src" x="381.00" y="833.3" textLength="24.00" lengthAdjust="spacingAndGlyphs">Job</text>
<text id="t49" class="src" x="411.40" y="833.3" textLength="68.21" lengthAdjust="spacingAndGlyphs">Openings</text>
<text id="t50" class="src" x="486.39" y="833.3" textLength="27.04" lengthAdjust="spacingAndGlyphs">and</text>
<text id="t51" class="src" x="518.98" y="833.3" textLength="42.41" lengthAdjust="spacingAndGlyphs">Labor</text>
<text id="t52" class="src" x="568.60" y="833.3" textLength="66.40" lengthAdjust="spacingAndGlyphs">Turnover</text>
<text id="t53" class="src" x="641.40" y="833.3" textLength="48.21" lengthAdjust="spacingAndGlyphs">Survey</text>
<text id="t54" class="src" x="696.39" y="833.3" textLength="27.04" lengthAdjust="spacingAndGlyphs">and</text>
<text id="t55" class="src" x="731.00" y="833.3" textLength="54.00" lengthAdjust="spacingAndGlyphs">Current</text>
<text id="t56" class="src" x="791.37" y="833.3" textLength="81.05" lengthAdjust="spacingAndGlyphs">Population</text>
<text id="t57" class="src" x="878.58" y="833.3" textLength="52.84" lengthAdjust="spacingAndGlyphs">Survey.</text>
<text id="t58" class="src" x="937.58" y="833.3" textLength="44.85" lengthAdjust="spacingAndGlyphs">Series</text>
<text id="t59" class="src" x="987.55" y="833.3" textLength="23.89" lengthAdjust="spacingAndGlyphs">IDs</text>
<text id="t60" class="src" x="28.60" y="851.8" textLength="106.40" lengthAdjust="spacingAndGlyphs">LNS14000000</text>
<text id="t61" class="src" x="142.57" y="851.8" textLength="26.04" lengthAdjust="spacingAndGlyphs">and</text>
<text id="t62" class="src" x="176.40" y="851.8" textLength="132.22" lengthAdjust="spacingAndGlyphs">JTS00000000JOL.</text>
<text id="t63" class="logo" x="450.78" y="902.5" textLength="114.43" lengthAdjust="spacingAndGlyphs">Equitable</text>
<text id="t64" class="logo" x="572.39" y="902.5" textLength="94.61" lengthAdjust="spacingAndGlyphs">Growth</text>
</svg>
</body></html>
